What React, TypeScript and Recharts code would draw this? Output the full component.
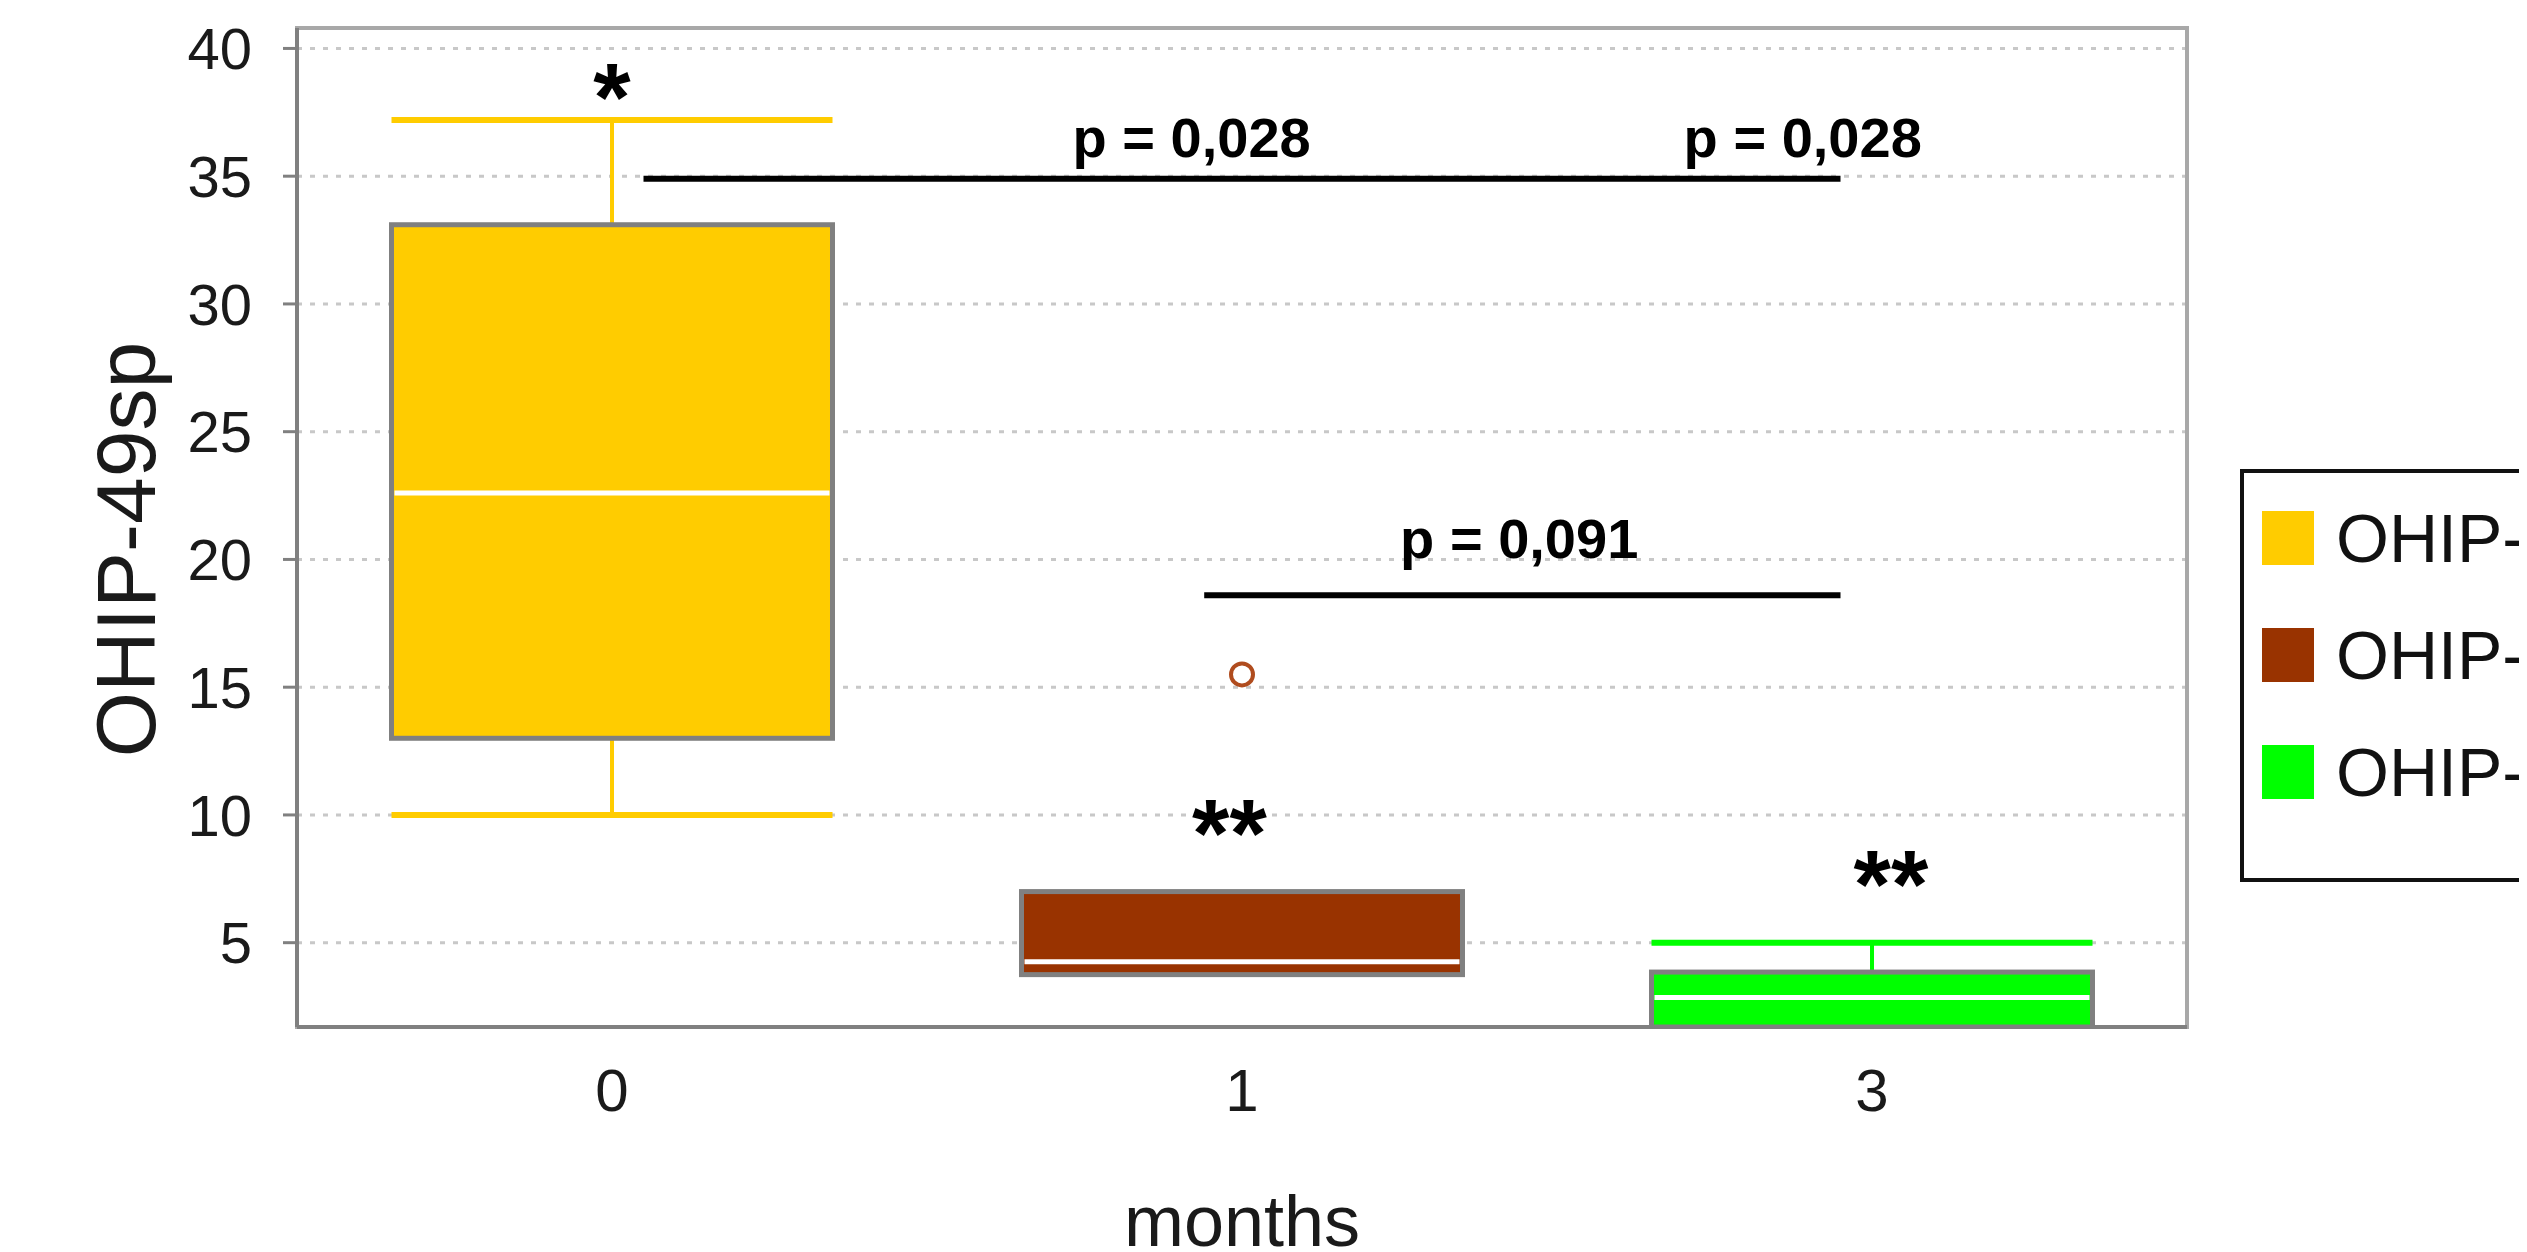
import React from 'react';
import {
  ComposedChart,
  Bar,
  Scatter,
  XAxis,
  YAxis,
  CartesianGrid,
  ReferenceLine,
  ReferenceArea,
  Legend,
} from 'recharts';

const FONT = '"Liberation Sans", Arial, sans-serif';

// box plot values per follow-up month
const months = ['0', '1', '3'];
const boxMin = [10, 3.75, 1.7];
const boxQ1 = [13.0, 3.75, 1.7];
const boxMedian = [22.6, 4.25, 2.85];
const boxQ3 = [33.1, 7.0, 3.85];
const boxMax = [37.2, 7.0, 5.0];
const boxColors = ['#FFCC00', '#993300', '#00FF00'];
const seriesNames = ['OHIP-0', 'OHIP-1', 'OHIP-3'];

// outliers (x = month index)
const outlierIndex = [1];
const outlierValues = [15.5];

const yTicks = [5, 10, 15, 20, 25, 30, 35, 40];
const yDomain = [1.7, 40.8];

// significance brackets, x in month-index units
const bracketFrom = [0.05, 0.94];
const bracketTo = [1.95, 1.95];
const bracketY = [34.9, 18.6];

// text notes, y = visual centre of the glyphs
const noteTexts = ['*', '**', '**', 'p = 0,028', 'p = 0,028', 'p = 0,091'];
const noteX = [0, 0.98, 2.03, 0.92, 1.89, 1.44];
const noteY = [38.9, 10.1, 8.1, 36.55, 36.55, 20.85];

const boxData = months.map((m, i) => ({
  month: m,
  min: boxMin[i],
  q1: boxQ1[i],
  median: boxMedian[i],
  q3: boxQ3[i],
  max: boxMax[i],
  color: boxColors[i],
  range: [boxQ1[i], boxQ3[i]],
}));

const outlierData = outlierIndex.map((xn, i) => ({ xn, y: outlierValues[i] }));
const noteData = noteTexts.map((text, i) => ({ xn: noteX[i], y: noteY[i], text }));

function BoxShape(props: any) {
  const { x, y, width, height, payload } = props;
  const span = payload.q3 - payload.q1;
  const unit = span > 0 ? height / span : 0;
  const toY = (v: number) => y + (payload.q3 - v) * unit;
  const cx = x + width / 2;
  const parts: React.ReactNode[] = [];
  if (payload.max > payload.q3) {
    parts.push(
      <line key="wt" x1={cx} x2={cx} y1={toY(payload.max)} y2={y} stroke={payload.color} strokeWidth={4} />,
      <line key="ct" x1={x} x2={x + width} y1={toY(payload.max)} y2={toY(payload.max)} stroke={payload.color} strokeWidth={6} />
    );
  }
  if (payload.min < payload.q1) {
    parts.push(
      <line key="wb" x1={cx} x2={cx} y1={y + height} y2={toY(payload.min)} stroke={payload.color} strokeWidth={4} />,
      <line key="cb" x1={x} x2={x + width} y1={toY(payload.min)} y2={toY(payload.min)} stroke={payload.color} strokeWidth={6} />
    );
  }
  return (
    <g>
      {parts}
      <rect x={x} y={y} width={width} height={height} fill={payload.color} stroke="#808080" strokeWidth={5} />
      <line
        x1={x + 3}
        x2={x + width - 3}
        y1={toY(payload.median)}
        y2={toY(payload.median)}
        stroke="#ffffff"
        strokeWidth={5}
      />
    </g>
  );
}

function OutlierShape(props: any) {
  return <circle cx={props.cx} cy={props.cy} r={11} fill="#ffffff" stroke="#b04c1e" strokeWidth={4} />;
}

function NoteShape(props: any) {
  const { cx, cy, payload } = props;
  const star = payload.text.startsWith('*');
  return (
    <text
      x={cx}
      y={cy}
      dy={star ? '0.56em' : '0.36em'}
      textAnchor="middle"
      fontSize={star ? 96 : 56}
      fontWeight="bold"
      fontFamily={FONT}
      fill="#000"
    >
      {payload.text}
    </text>
  );
}

const renderLegend = () => (
  <div
    style={{
      boxSizing: 'border-box',
      width: 400,
      height: 413,
      border: '4px solid #111',
      background: '#fff',
      paddingTop: 6,
      paddingLeft: 18,
      fontFamily: FONT,
    }}
  >
    {seriesNames.map((name, i) => (
      <div key={name} style={{ display: 'flex', alignItems: 'center', height: 117 }}>
        <div style={{ width: 52, height: 54, background: boxColors[i] }} />
        <span style={{ marginLeft: 22, fontSize: 68, lineHeight: 1, color: '#111', whiteSpace: 'nowrap' }}>
          {name}
        </span>
      </div>
    ))}
  </div>
);

export default function App() {
  return (
    <div style={{ width: 2519, height: 1244, overflow: 'hidden', fontFamily: FONT }}>
      <ComposedChart
        width={2519}
        height={1244}
        data={boxData}
        margin={{ top: 20, right: 340, bottom: 0, left: 0 }}
        barCategoryGap="15%"
      >
        <CartesianGrid vertical={false} stroke="#c8c8c8" strokeDasharray="5 8" strokeWidth={3} />
        <ReferenceArea
          xAxisId="num"
          x1={-0.5}
          x2={2.5}
          y1={yDomain[0]}
          y2={yDomain[1]}
          fill="none"
          stroke="#a8a8a8"
          strokeWidth={4}
          ifOverflow="visible"
        />
        <XAxis
          dataKey="month"
          type="category"
          tickLine={false}
          tickSize={0}
          tickMargin={41}
          height={225}
          axisLine={{ stroke: '#808080', strokeWidth: 4 }}
          tick={{ fontSize: 60, fill: '#1a1a1a', fontFamily: FONT }}
          label={{
            content: (p: any) => (
              <text
                x={p.viewBox.x + p.viewBox.width / 2}
                y={p.viewBox.y + 219}
                textAnchor="middle"
                fontSize={72}
                fontFamily={FONT}
                fill="#1a1a1a"
              >
                months
              </text>
            ),
          }}
        />
        <XAxis xAxisId="num" dataKey="xn" type="number" domain={[-0.5, 2.5]} allowDataOverflow hide />
        <YAxis
          type="number"
          domain={yDomain}
          ticks={yTicks}
          interval={0}
          allowDataOverflow
          width={289}
          tickSize={14}
          tickMargin={31}
          tickLine={{ stroke: '#808080', strokeWidth: 3 }}
          axisLine={{ stroke: '#808080', strokeWidth: 4 }}
          tick={{ fontSize: 58, fill: '#1a1a1a', fontFamily: FONT }}
          label={{
            content: (p: any) => {
              const ax = 117;
              const ay = p.viewBox.y + p.viewBox.height / 2 + 22;
              return (
                <text
                  x={ax}
                  y={ay}
                  dy="0.36em"
                  transform={`rotate(-90, ${ax}, ${ay})`}
                  textAnchor="middle"
                  fontSize={84}
                  fontFamily={FONT}
                  fill="#1a1a1a"
                >
                  OHIP-49sp
                </text>
              );
            },
          }}
        />
        <Bar dataKey="range" shape={<BoxShape />} isAnimationActive={false} />
        {bracketY.map((yv, i) => (
          <ReferenceLine
            key={i}
            xAxisId="num"
            segment={[
              { x: bracketFrom[i], y: yv },
              { x: bracketTo[i], y: yv },
            ]}
            stroke="#000"
            strokeWidth={6}
            ifOverflow="visible"
          />
        ))}
        <Scatter xAxisId="num" data={outlierData} dataKey="y" shape={<OutlierShape />} isAnimationActive={false} />
        <Scatter xAxisId="num" data={noteData} dataKey="y" shape={<NoteShape />} isAnimationActive={false} />
        <Legend
          layout="vertical"
          align="center"
          verticalAlign="middle"
          wrapperStyle={{ left: 2232, top: 461, width: 400, height: 413 }}
          content={renderLegend}
        />
      </ComposedChart>
    </div>
  );
}
